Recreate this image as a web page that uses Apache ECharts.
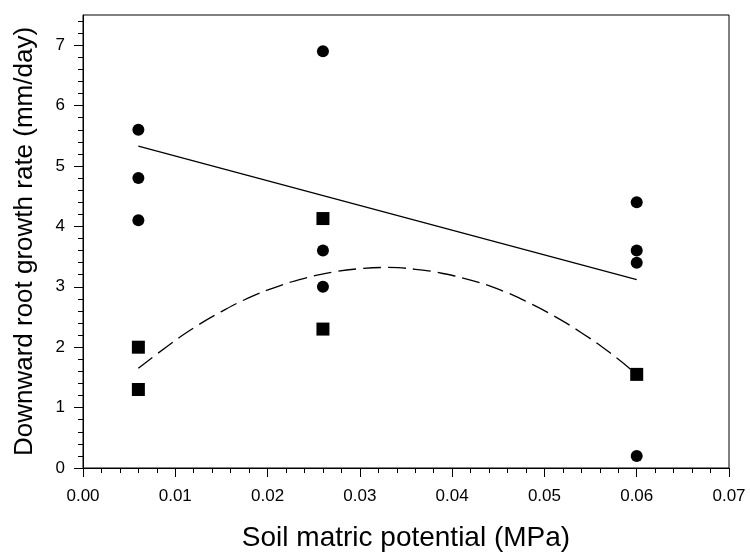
<!DOCTYPE html>
<html>
<head>
<meta charset="utf-8">
<script src="https://cdn.jsdelivr.net/npm/echarts@6/dist/echarts.min.js"></script>
<style>
  html, body { margin: 0; padding: 0; background: #fff; }
  #chart { width: 750px; height: 557px; }
</style>
</head>
<body>
<div id="chart"></div>
<script>
// circles (observations, upper group)
const circlePoints = [
  [0.006, 5.6], [0.006, 4.8], [0.006, 4.1],
  [0.026, 6.9], [0.026, 3.6], [0.026, 3.0],
  [0.06, 4.4], [0.06, 3.6], [0.06, 3.4], [0.06, 0.2]
];
// squares
const squarePoints = [
  [0.006, 2.0], [0.006, 1.3],
  [0.026, 4.13], [0.026, 2.3],
  [0.06, 1.55]
];
// solid regression line, read at both ends
const linearFit = [[0.006, 5.33], [0.06, 3.12]];
// dashed curve, read along its length
const curveX = [0.006, 0.009, 0.012, 0.015, 0.018, 0.021, 0.024, 0.027, 0.030, 0.033,
                0.036, 0.039, 0.042, 0.045, 0.048, 0.051, 0.054, 0.057, 0.060];
const curveY = [1.65, 2.0, 2.32, 2.59, 2.82, 3.0, 3.14, 3.24, 3.3, 3.32,
                3.29, 3.22, 3.11, 2.96, 2.76, 2.52, 2.24, 1.92, 1.55];

const yMajorTicks = [0, 1, 2, 3, 4, 5, 6, 7];
const yMinorTicks = [];
for (let i = 0; i <= 37; i++) yMinorTicks.push(+(i * 0.2).toFixed(1));

const chart = echarts.init(document.getElementById('chart'));
const font = 'Liberation Sans, Arial, sans-serif';

chart.setOption({
  animation: false,
  grid: {
    left: 83, right: 21, top: 15, bottom: 89,
    show: true, borderColor: '#000', borderWidth: 1
  },
  xAxis: {
    type: 'value',
    min: 0, max: 0.07, interval: 0.01,
    name: 'Soil matric potential (MPa)',
    nameLocation: 'middle',
    nameGap: 56,
    nameTextStyle: { fontFamily: font, fontSize: 28, color: '#000' },
    axisLine: { lineStyle: { color: '#000', width: 1 } },
    axisTick: { length: 9, lineStyle: { color: '#000' } },
    minorTick: { show: true, splitNumber: 5, length: 5, lineStyle: { color: '#000' } },
    splitLine: { show: false },
    axisLabel: {
      margin: 20, fontFamily: font, fontSize: 17, color: '#000',
      formatter: v => v.toFixed(2)
    }
  },
  yAxis: [
    {
      type: 'value',
      min: 0, max: 7.5,
      name: 'Downward root growth rate (mm/day)',
      nameLocation: 'middle',
      nameGap: 45,
      nameTextStyle: { fontFamily: font, fontSize: 26, color: '#000' },
      axisLine: { show: true, lineStyle: { color: '#000', width: 1 } },
      axisTick: { show: true, length: 9, customValues: yMajorTicks, lineStyle: { color: '#000' } },
      splitLine: { show: false },
      axisLabel: {
        margin: 18, fontFamily: font, fontSize: 17, color: '#000',
        customValues: yMajorTicks
      }
    },
    {
      type: 'value',
      min: 0, max: 7.5,
      position: 'left',
      axisLine: { show: false },
      axisTick: { show: true, length: 5, customValues: yMinorTicks, lineStyle: { color: '#000' } },
      splitLine: { show: false },
      axisLabel: { show: false }
    }
  ],
  series: [
    {
      type: 'line',
      data: linearFit,
      showSymbol: false,
      lineStyle: { color: '#000', width: 1.3 },
      z: 1
    },
    {
      type: 'line',
      data: curveX.map((x, i) => [x, curveY[i]]),
      smooth: true,
      showSymbol: false,
      lineStyle: { color: '#000', width: 1.3, type: [18, 7] },
      z: 1
    },
    {
      type: 'scatter',
      data: circlePoints,
      symbol: 'circle',
      symbolSize: 12,
      itemStyle: { color: '#000', opacity: 1 },
      z: 3
    },
    {
      type: 'scatter',
      data: squarePoints,
      symbol: 'rect',
      symbolSize: 13,
      itemStyle: { color: '#000', opacity: 1 },
      z: 3
    }
  ]
});
</script>
</body>
</html>
